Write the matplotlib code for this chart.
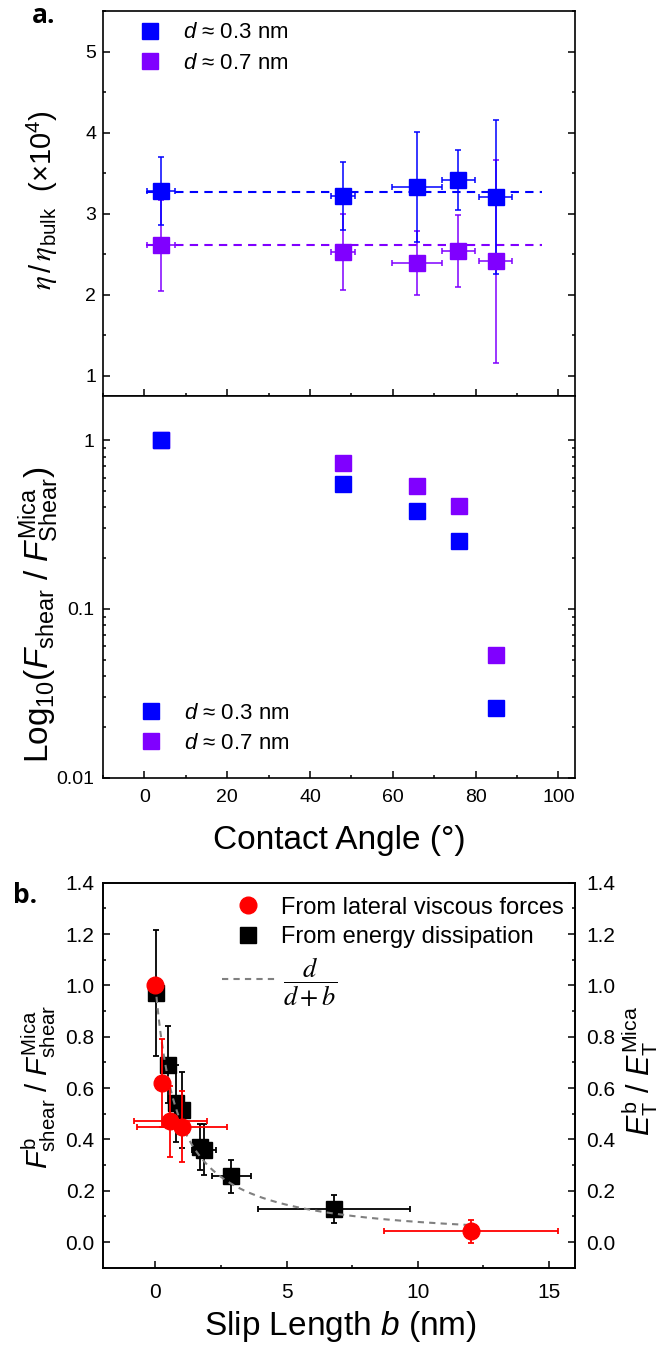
import numpy as np
import matplotlib
matplotlib.use('Agg')
from matplotlib import pyplot as plt
from matplotlib.ticker import MultipleLocator, FixedLocator, FixedFormatter, LogLocator, NullFormatter

plt.rcParams['font.family'] = ['Liberation Sans', 'DejaVu Sans']
plt.rcParams['mathtext.fontset'] = 'custom'
plt.rcParams['mathtext.rm'] = 'Liberation Sans'
plt.rcParams['mathtext.it'] = 'Liberation Sans:italic'
plt.rcParams['mathtext.bf'] = 'Liberation Sans:bold'
plt.rcParams['mathtext.sf'] = 'STIXGeneral:italic'
plt.rcParams['axes.linewidth'] = 1.2

BLUE = '#0000FF'
PURPLE = '#8000FF'
RED = '#FF0000'

# ---- Data: panel a (top) reduced viscosity vs contact angle
ANGLE = [4.0, 47.9, 65.8, 75.8, 84.8]
ANGLE_ERR = [3.3, 2.9, 6.1, 4.0, 4.1]
ETA_03 = [3.28, 3.22, 3.33, 3.41, 3.21]
ETA_03_ERR = [0.42, 0.42, 0.68, 0.37, 0.95]
ETA_07 = [2.61, 2.53, 2.39, 2.54, 2.41]
ETA_07_ERR = [0.56, 0.47, 0.40, 0.44, 1.25]
MEAN_X = [0.3, 96.0]
ETA_03_MEAN = [3.27, 3.27]
ETA_07_MEAN = [2.61, 2.61]

# ---- Data: panel a (middle) shear force ratio vs contact angle
ANGLE_F = [4.0, 48.0, 65.9, 76.0, 84.9]
FRATIO_03 = [1.0, 0.553, 0.38, 0.252, 0.026]
FRATIO_07 = [1.0, 0.733, 0.535, 0.41, 0.0536]

# ---- Data: panel b, slip length
LAT_B = [0.0, 0.24, 0.56, 1.0, 12.03]
LAT_B_ERR = [0.0, 0.0, 1.39, 1.72, 3.31]
LAT_F = [1.0, 0.62, 0.47, 0.45, 0.042]
LAT_F_ERR = [0.0, 0.17, 0.137, 0.14, 0.045]

DIS_B = [0.03, 0.48, 0.80, 1.0, 1.69, 1.85, 2.89, 6.80]
DIS_B_ERR = [0.0, 0.1, 0.1, 0.12, 0.15, 0.45, 0.74, 2.9]
DIS_F = [0.97, 0.69, 0.54, 0.515, 0.37, 0.36, 0.256, 0.128]
DIS_F_ERR = [0.245, 0.15, 0.15, 0.148, 0.09, 0.10, 0.065, 0.055]

# model curve d/(d+b)
D_FIT = 0.85
B_FIT = np.linspace(0, 12, 200)

W, H = 661, 1351
fig = plt.figure(figsize=(W / 100, H / 100), dpi=100)


def px_axes(left, top, right, bottom):
    return fig.add_axes([left / W, 1 - bottom / H, (right - left) / W, (bottom - top) / H])


def style_ticks(ax, size):
    ax.tick_params(which='both', direction='in', right=True, top=False, width=1.1, labelsize=size)
    ax.tick_params(which='major', length=5)
    ax.tick_params(which='minor', length=2.5)


ax1 = px_axes(103, 11, 575, 396)
ax2 = px_axes(103, 396, 575, 777.5)
ax3 = px_axes(103, 882.7, 575, 1267.7)

eb_kw = dict(fmt='s', ms=12, capsize=2.2, elinewidth=1.1, capthick=1.1)

# top panel
e07 = ax1.errorbar(ANGLE, ETA_07, xerr=ANGLE_ERR, yerr=ETA_07_ERR, color=PURPLE, **eb_kw)
e03 = ax1.errorbar(ANGLE, ETA_03, xerr=ANGLE_ERR, yerr=ETA_03_ERR, color=BLUE, **eb_kw)
ax1.plot(MEAN_X, ETA_03_MEAN, '--', color=BLUE, lw=1.5, dashes=(4, 3), zorder=1)
ax1.plot(MEAN_X, ETA_07_MEAN, '--', color=PURPLE, lw=1.5, dashes=(4, 3), zorder=1)
ax1.set_xlim(-10, 104)
ax1.set_ylim(0.75, 5.5)
ax1.xaxis.set_major_locator(MultipleLocator(20))
ax1.xaxis.set_minor_locator(MultipleLocator(10))
ax1.yaxis.set_major_locator(MultipleLocator(1))
ax1.yaxis.set_minor_locator(MultipleLocator(0.5))
style_ticks(ax1, 14)
ax1.tick_params(labelbottom=False, pad=5)
ax1.set_ylabel(r'$\mathsf{\eta}\,/\,\mathsf{\eta}_{\rm bulk}$  (×10$^4$)', fontsize=21, va='center')
ax1.yaxis.set_label_coords(-0.129, 0.509)
ax1.legend(handles=[e03[0], e07[0]], labels=[r'$d$ ≈ 0.3 nm', r'$d$ ≈ 0.7 nm'],
           loc='center left', bbox_to_anchor=(0.075, 0.904), frameon=False, fontsize=16,
           handlelength=1.0, handletextpad=1.0, labelspacing=0.42, borderpad=0, borderaxespad=0)

# middle panel
p07, = ax2.plot(ANGLE_F, FRATIO_07, 's', color=PURPLE, ms=12)
p03, = ax2.plot(ANGLE_F, FRATIO_03, 's', color=BLUE, ms=12)
ax2.set_yscale('log')
ax2.set_xlim(-10, 104)
ax2.set_ylim(0.01, 1.83)
ax2.xaxis.set_major_locator(MultipleLocator(20))
ax2.xaxis.set_minor_locator(MultipleLocator(10))
ax2.yaxis.set_major_locator(FixedLocator([0.01, 0.1, 1]))
ax2.yaxis.set_major_formatter(FixedFormatter(['0.01', '0.1', '1']))
ax2.yaxis.set_minor_locator(LogLocator(base=10, subs=np.arange(2, 10)))
ax2.yaxis.set_minor_formatter(NullFormatter())
style_ticks(ax2, 14)
ax2.tick_params(axis='x', pad=8)
ax2.tick_params(axis='y', pad=6)
ax2.set_xlabel('Contact Angle (°)', fontsize=24, va='center')
ax2.xaxis.set_label_coords(0.5, -0.164)
ax2.set_ylabel(r'Log$_{10}$($F_{\rm shear}$ / $F^{\rm Mica}_{\rm Shear}$)', fontsize=24, va='center')
ax2.yaxis.set_label_coords(-0.136, 0.427)
ax2.legend(handles=[p03, p07], labels=[r'$d$ ≈ 0.3 nm', r'$d$ ≈ 0.7 nm'],
           loc='center left', bbox_to_anchor=(0.078, 0.129), frameon=False, fontsize=16,
           handlelength=1.0, handletextpad=1.0, labelspacing=0.4, borderpad=0, borderaxespad=0)

# bottom panel
fit, = ax3.plot(B_FIT, D_FIT / (D_FIT + B_FIT), '--', color='#808080', lw=1.5, dashes=(3, 2.5), zorder=4)
edis = ax3.errorbar(DIS_B, DIS_F, xerr=DIS_B_ERR, yerr=DIS_F_ERR, fmt='s', ms=11, color='black',
                    capsize=2.2, elinewidth=1.3, capthick=1.3, zorder=3)
elat = ax3.errorbar(LAT_B, LAT_F, xerr=LAT_B_ERR, yerr=LAT_F_ERR, fmt='o', ms=12, color=RED,
                    capsize=2.2, elinewidth=1.3, capthick=1.3, zorder=5)
ax3.set_xlim(-2, 16)
ax3.set_ylim(-0.1, 1.4)
ax3.xaxis.set_major_locator(MultipleLocator(5))
ax3.xaxis.set_minor_locator(MultipleLocator(2.5))
ax3.yaxis.set_major_locator(MultipleLocator(0.2))
ax3.yaxis.set_minor_locator(MultipleLocator(0.1))
ax3.yaxis.set_major_formatter(plt.FormatStrFormatter('%.1f'))
style_ticks(ax3, 15)
ax3.tick_params(right=False)
ax3.tick_params(axis='x', pad=11)
ax3.tick_params(axis='y', pad=6)
ax3.set_xlabel(r'Slip Length $b$ (nm)', fontsize=24, va='center')
ax3.xaxis.set_label_coords(0.502, -0.154)
ax3.set_ylabel(r'$F^{\rm b}_{\rm shear}$ / $F^{\rm Mica}_{\rm shear}$', fontsize=21, va='center')
ax3.yaxis.set_label_coords(-0.136, 0.47)

ax4 = ax3.twinx()
ax4.set_ylim(-0.1, 1.4)
ax4.yaxis.set_major_locator(MultipleLocator(0.2))
ax4.yaxis.set_minor_locator(MultipleLocator(0.1))
ax4.yaxis.set_major_formatter(plt.FormatStrFormatter('%.1f'))
ax4.tick_params(which='both', direction='in', width=1.1, labelsize=15, pad=8)
ax4.tick_params(which='major', length=5)
ax4.tick_params(which='minor', length=2.5)
ax4.set_ylabel(r'$E^{\rm b}_{\rm T}$ / $E^{\rm Mica}_{\rm T}$', fontsize=22, rotation=90, va='center')
ax4.yaxis.set_label_coords(1.138, 0.51)

leg = ax3.legend(handles=[elat[0], edis[0]], labels=['From lateral viscous forces', 'From energy dissipation'],
                 loc='center left', bbox_to_anchor=(0.282, 0.8966), frameon=False, fontsize=17,
                 handlelength=1.0, handletextpad=0.92, labelspacing=0.33, borderpad=0, borderaxespad=0)
ax3.add_artist(leg)
leg2 = ax3.legend(handles=[fit], labels=[r'$\dfrac{d}{d+b}$'], loc='center left',
                  bbox_to_anchor=(0.253, 0.74), frameon=False, fontsize=19,
                  handlelength=2.1, handletextpad=0.2, borderpad=0, borderaxespad=0)
for t in leg2.get_texts():
    t.set_math_fontfamily('stix')

fig.text(31.7 / W, 1 - 23.3 / H, 'a.', fontsize=19, fontweight='bold', family='Open Sans', va='baseline')
fig.text(13 / W, 1 - 903 / H, 'b.', fontsize=19, fontweight='bold', family='Open Sans', va='baseline')

fig.savefig('out.png', dpi=100)
